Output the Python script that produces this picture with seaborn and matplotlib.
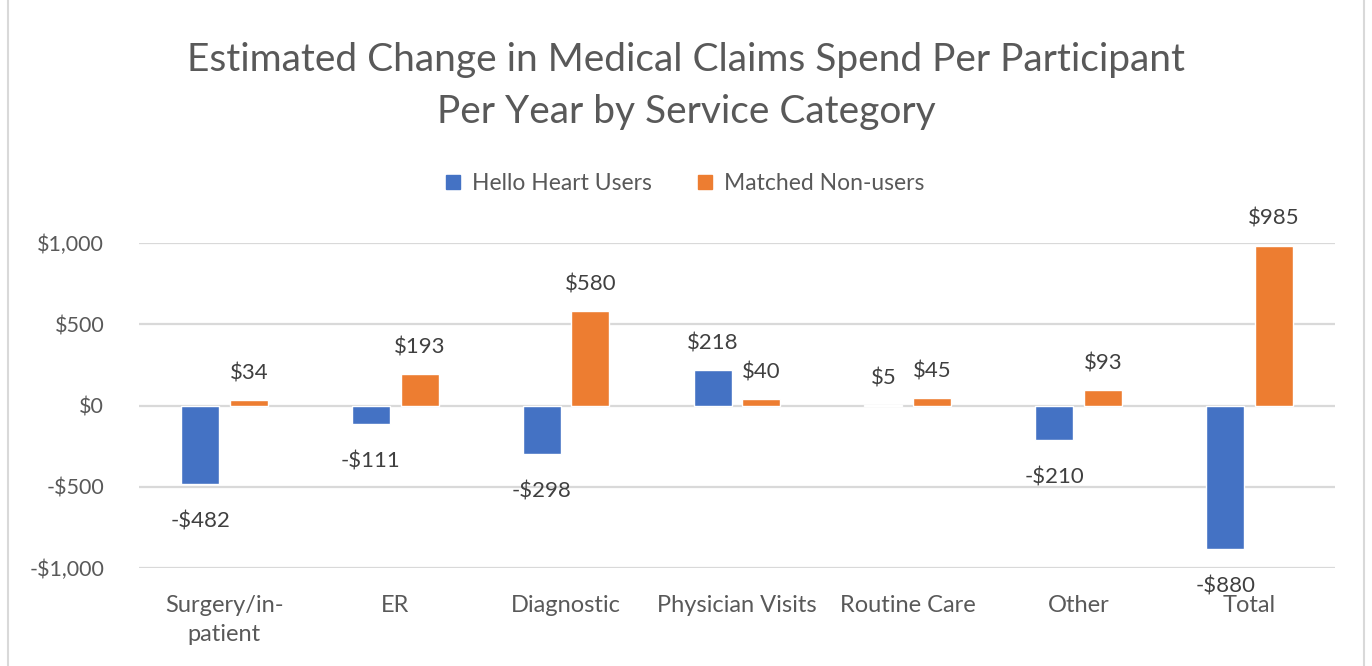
import pandas as pd
import seaborn as sns
import matplotlib.pyplot as plt
from matplotlib.lines import Line2D

categories = ['Surgery/in-\npatient', 'ER', 'Diagnostic', 'Physician Visits', 'Routine Care', 'Other', 'Total']
users = [-482, -111, -298, 218, 5, -210, -880]
non_users = [34, 193, 580, 40, 45, 93, 985]
series = ['Hello Heart Users', 'Matched Non-users']
yticks = [-1000, -500, 0, 500, 1000]

def money(v):
    return ('-$' if v < 0 else '$') + f'{abs(v):,}'

df = pd.DataFrame({
    'category': categories * 2,
    'value': users + non_users,
    'series': [series[0]] * len(categories) + [series[1]] * len(categories),
})

sns.set_theme(style='white')
plt.rcParams['font.family'] = ['Lato', 'DejaVu Sans']
grey = '#595959'
colors = ['#4472C4', '#ED7D31']

fig = plt.figure(figsize=(13.72, 6.66), dpi=100)
ax = fig.add_axes([0.1013, 0.147, 0.8717, 0.488])
sns.barplot(data=df, x='category', y='value', hue='series', palette=colors,
            width=0.57, gap=0.22, ax=ax, legend=False, saturation=1)

ax.set_ylim(-1000, 1000)
ax.set_yticks(yticks)
ax.set_yticklabels([money(v) for v in yticks], color=grey, fontsize=15.5)
ax.tick_params(axis='y', length=0, pad=25)
ax.tick_params(axis='x', length=0, pad=19.5, labelsize=17, labelcolor=grey)
for lab in ax.get_xticklabels():
    lab.set_linespacing(1.45)
ax.set_xlabel('')
ax.set_ylabel('')
ax.set_xlim(-0.5, len(categories) - 0.5)
ax.yaxis.grid(True, color='#d9d9d9', linewidth=1.6)
ax.set_axisbelow(True)
for s in ax.spines.values():
    s.set_visible(False)

# data labels: positive above the bar, negative a bit further below
for cont, vals in zip(ax.containers, [users, non_users]):
    ax.bar_label(cont, labels=[money(v) if v >= 0 else '' for v in vals], padding=12,
                 fontsize=16, color='#404040')
    ax.bar_label(cont, labels=[money(v) if v < 0 else '' for v in vals], padding=20,
                 fontsize=16, color='#404040')

fig.suptitle('Estimated Change in Medical Claims Spend Per Participant\nPer Year by Service Category',
             y=0.871, va='center', fontsize=28, color=grey, linespacing=1.53)

handles = [Line2D([], [], marker='s', linestyle='', markersize=10, color=c) for c in colors]
fig.legend(handles, series, loc='center', bbox_to_anchor=(0.499, 0.725), ncol=2,
           frameon=False, fontsize=16.5, labelcolor=grey, handlelength=0.7,
           handletextpad=0.45, columnspacing=2.0)

fig.add_artist(Line2D([0.006, 0.006], [0, 1], color='#d9d9d9', linewidth=1.5))
fig.add_artist(Line2D([0.994, 0.994], [0, 1], color='#d9d9d9', linewidth=1.5))

fig.savefig('out.png', dpi=100)
